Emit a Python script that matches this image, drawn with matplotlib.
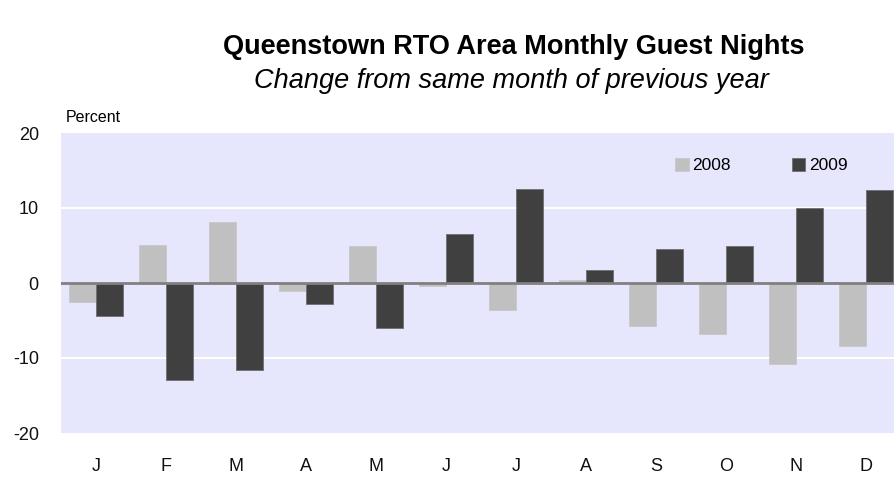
import numpy as np
import matplotlib
matplotlib.use("Agg")
import matplotlib.pyplot as plt

months = ['J', 'F', 'M', 'A', 'M', 'J', 'J', 'A', 'S', 'O', 'N', 'D']
y2008 = [-2.5, 5.1, 8.1, -1.0, 4.9, -0.4, -3.6, 0.4, -5.7, -6.8, -10.8, -8.4]
y2009 = [-4.4, -12.9, -11.6, -2.8, -6.0, 6.5, 12.6, 1.7, 4.6, 4.9, 10.0, 12.4]
yticks = [-20, -10, 0, 10, 20]

def main():
    plt.rcParams['font.family'] = ['Liberation Sans', 'DejaVu Sans']
    plt.rcParams['axes.unicode_minus'] = False

    fig = plt.figure(figsize=(8.94, 4.83), dpi=100)
    ax = fig.add_axes([61 / 894, 50 / 483, 840 / 894, 300 / 483])
    ax.set_facecolor('#e6e6fc')

    x = np.arange(len(months))
    w = 0.385
    b1 = ax.bar(x - w / 2, y2008, width=w, color='#c0c0c0', edgecolor='#c8c8c8', linewidth=0.6, zorder=3)
    b2 = ax.bar(x + w / 2, y2009, width=w, color='#404040', edgecolor='#707070', linewidth=0.6, zorder=3)

    ax.set_xlim(-0.5, 11.5)
    ax.set_ylim(-20, 20)
    ax.set_yticks(yticks)
    ax.set_xticks(x)
    ax.set_xticklabels(months)
    for v in [-10, 10]:
        ax.axhline(v, color='white', linewidth=1.5, zorder=1)
    ax.axhline(0, color='#808080', linewidth=2, zorder=4)

    for s in ax.spines.values():
        s.set_visible(False)
    ax.tick_params(length=0, labelsize=13, colors='#111111')
    ax.tick_params(axis='y', pad=16)
    ax.tick_params(axis='x', pad=18)

    fig.text(66 / 894, 1 - 118 / 483, 'Percent', fontsize=11.5, va='center', ha='left')

    fig.text(514 / 894, 1 - 47 / 483, 'Queenstown RTO Area Monthly Guest Nights',
             fontsize=19.5, fontweight='bold', ha='center', va='center')
    fig.text(511 / 894, 1 - 81 / 483, 'Change from same month of previous year',
             fontsize=19.5, style='italic', ha='center', va='center')

    ax.legend((b1[0], b2[0]), ('2008', '2009'), loc='upper right', bbox_to_anchor=(0.955, 0.97),
              ncol=2, frameon=False, fontsize=12.5, handlelength=0.8, handleheight=0.8,
              handletextpad=0.2, columnspacing=3.5)

    fig.savefig('out.png', dpi=100)


if __name__ == "__main__":
    main()
